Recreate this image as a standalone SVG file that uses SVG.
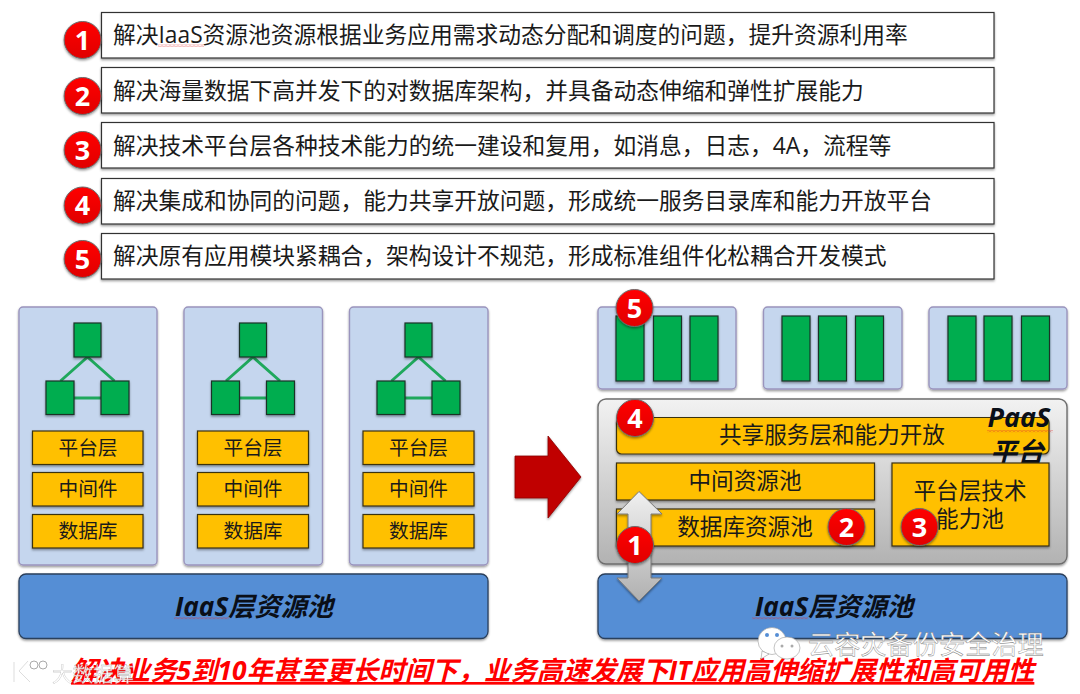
<svg xmlns="http://www.w3.org/2000/svg" xmlns:xlink="http://www.w3.org/1999/xlink" width="1080" height="694" viewBox="0 0 1080 694">
<style>
text{font-family:"Open Sans","Noto Sans CJK SC",sans-serif;fill:#1a1a1a}
.box{fill:#fff;stroke:#333;stroke-width:1.2;filter:url(#sh)}
.t{font-size:22.75px}
.panel{fill:#c5d6ee;stroke:#9a94bd;stroke-width:1.4;filter:url(#sh)}
.g{fill:#00ad50;stroke:#1c3328;stroke-width:1.2;filter:url(#sh)}
.y{fill:#ffc000;stroke:#3a3010;stroke-width:1.2;filter:url(#sh)}
.yt{font-size:19.7px;text-anchor:middle}
.yb{font-size:22.6px;text-anchor:middle}
.link{stroke:#1fa85c;stroke-width:3;fill:none}
.iaas{fill:#558ed5;stroke:#2a3f5c;stroke-width:1.3;filter:url(#sh)}
.it{font-size:26.2px;font-weight:700;font-style:italic;text-anchor:middle;fill:#0a0f18}
.c{fill:url(#red);stroke:#6b6b6b;stroke-width:1;filter:url(#sh)}
.n{font-size:27px;font-weight:700;text-anchor:middle;fill:#fff}
.wm{fill:#fff;stroke:#9a9a9a;stroke-width:.6}
</style>
<defs>
<filter id="sh" x="-15%" y="-15%" width="130%" height="130%"><feDropShadow dx="0" dy="1.5" stdDeviation="1.3" flood-color="#000" flood-opacity=".4"/></filter>
<linearGradient id="red" x1="0" y1="0" x2="0" y2="1"><stop offset="0" stop-color="#f00"/><stop offset="1" stop-color="#e00000"/></linearGradient>
<linearGradient id="grey" x1="0" y1="0" x2="0" y2="1"><stop offset="0" stop-color="#f2f2f2"/><stop offset="1" stop-color="#b2b2b2"/></linearGradient>
<linearGradient id="dbl" x1="0" y1="0" x2="0" y2="1"><stop offset="0" stop-color="#f0f0f0"/><stop offset="1" stop-color="#b0b0b0"/></linearGradient>
<pattern id="sq" width="4" height="2.4" patternUnits="userSpaceOnUse"><path d="M0 .4L2 2L4 .4" fill="none" stroke="#e03030" stroke-width=".7"/></pattern>
<g id="tri">
<path class="link" d="M0 26L-27 50M0 26L27 50M-14 67H14"/>
<rect class="g" x="-13.500" y="-8" width="27" height="34"/>
<rect class="g" x="-41.500" y="50" width="28" height="33.500"/>
<rect class="g" x="13.500" y="50" width="28" height="33.500"/>
</g>
</defs>
<rect width="1080" height="694" fill="#fff"/>

<g id="req1"><rect class="box" x="101.500" y="12.500" width="892.500" height="45.500"/><text class="t" x="113" y="43">解决IaaS资源池资源根据业务应用需求动态分配和调度的问题，提升资源利用率</text><rect x="158" y="44.500" width="46" height="2.400" fill="url(#sq)"/><circle class="c" cx="82.600" cy="40" r="18.500"/><text class="n" x="82.600" y="49.500">1</text></g>
<g id="req2"><rect class="box" x="101.500" y="67.500" width="892.500" height="45.500"/><text class="t" x="113" y="99">解决海量数据下高并发下的对数据库架构，并具备动态伸缩和弹性扩展能力</text><circle class="c" cx="82.600" cy="96" r="18.500"/><text class="n" x="82.600" y="105.500">2</text></g>
<g id="req3"><rect class="box" x="101.500" y="122.500" width="892.500" height="45.500"/><text class="t" x="113" y="154">解决技术平台层各种技术能力的统一建设和复用，如消息，日志，4A，流程等</text><circle class="c" cx="82.600" cy="150" r="18.500"/><text class="n" x="82.600" y="159.500">3</text></g>
<g id="req4"><rect class="box" x="101.500" y="178.500" width="892.500" height="45.500"/><text class="t" x="113" y="209">解决集成和协同的问题，能力共享开放问题，形成统一服务目录库和能力开放平台</text><circle class="c" cx="82.600" cy="205.500" r="18.500"/><text class="n" x="82.600" y="215">4</text></g>
<g id="req5"><rect class="box" x="101.500" y="233.500" width="892.500" height="45.500"/><text class="t" x="113" y="264">解决原有应用模块紧耦合，架构设计不规范，形成标准组件化松耦合开发模式</text><circle class="c" cx="82.600" cy="259" r="18.500"/><text class="n" x="82.600" y="268.500">5</text></g>

<g id="col1"><rect class="panel" x="19" y="307" width="138" height="258" rx="4"/><use xlink:href="#tri" x="87.500" y="331"/>
<rect class="y" x="32.500" y="431" width="110.500" height="33.500"/><text class="yt" x="88" y="455">平台层</text>
<rect class="y" x="32.500" y="472.500" width="110.500" height="33.500"/><text class="yt" x="88" y="496">中间件</text>
<rect class="y" x="32.500" y="514.500" width="110.500" height="33.500"/><text class="yt" x="88" y="538">数据库</text></g>
<g id="col2"><rect class="panel" x="184" y="307" width="138.500" height="258" rx="4"/><use xlink:href="#tri" x="253" y="331"/>
<rect class="y" x="197.500" y="431" width="111" height="33.500"/><text class="yt" x="253" y="455">平台层</text>
<rect class="y" x="197.500" y="472.500" width="111" height="33.500"/><text class="yt" x="253" y="496">中间件</text>
<rect class="y" x="197.500" y="514.500" width="111" height="33.500"/><text class="yt" x="253" y="538">数据库</text></g>
<g id="col3"><rect class="panel" x="349.500" y="307" width="138.500" height="258" rx="4"/><use xlink:href="#tri" x="418.500" y="331"/>
<rect class="y" x="363" y="431" width="111" height="33.500"/><text class="yt" x="418.500" y="455">平台层</text>
<rect class="y" x="363" y="472.500" width="111" height="33.500"/><text class="yt" x="418.500" y="496">中间件</text>
<rect class="y" x="363" y="514.500" width="111" height="33.500"/><text class="yt" x="418.500" y="538">数据库</text></g>
<g id="iaas-left"><rect class="iaas" x="19" y="574" width="469" height="64.500" rx="7"/><text class="it" x="254" y="616">IaaS层资源池</text><rect x="174" y="617" width="55" height="2.400" fill="url(#sq)"/></g>

<g id="arrow-main"><path d="M515 456H548V436L581 477L548 518V498H515Z" fill="#c00000" stroke="#8a0000" stroke-width=".8" filter="url(#sh)"/></g>

<g id="app1"><rect class="panel" x="598" y="307" width="138" height="82" rx="4"/><rect class="g" x="616" y="316" width="28" height="65"/><rect class="g" x="653.500" y="316" width="28" height="65"/><rect class="g" x="690" y="316" width="28" height="65"/></g>
<g id="app2"><rect class="panel" x="763.500" y="307" width="138.500" height="82" rx="4"/><rect class="g" x="782" y="316" width="28" height="65"/><rect class="g" x="818.500" y="316" width="28" height="65"/><rect class="g" x="855.500" y="316" width="28" height="65"/></g>
<g id="app3"><rect class="panel" x="929" y="307" width="138" height="82" rx="4"/><rect class="g" x="948" y="316" width="28" height="65"/><rect class="g" x="984" y="316" width="28" height="65"/><rect class="g" x="1021.500" y="316" width="28" height="65"/></g>

<g id="paas"><rect x="598" y="399" width="469" height="165" rx="8" fill="url(#grey)" stroke="#6e6e6e" stroke-width="1.4" filter="url(#sh)"/>
<rect class="y" x="616.500" y="417.500" width="432.500" height="36.500" rx="5"/><text class="yb" x="832" y="443">共享服务层和能力开放</text>
<text class="it" x="1019" y="427" style="font-size:27px">PaaS</text><text class="it" x="1017" y="462" style="font-size:27px">平台</text><rect x="987" y="430" width="66" height="2.400" fill="url(#sq)"/>
<rect class="y" x="616.500" y="463" width="258" height="37"/><text class="yb" x="745" y="489">中间资源池</text>
<rect class="y" x="616.500" y="509" width="258" height="37"/><text class="yb" x="745" y="535">数据库资源池</text>
<rect class="y" x="892" y="463" width="157" height="83"/><text class="yb" x="970" y="499">平台层技术</text><text class="yb" x="970" y="527">能力池</text></g>

<g id="iaas-right"><rect class="iaas" x="598" y="574" width="469" height="64.500" rx="7"/><text class="it" x="834" y="616">IaaS层资源池</text><rect x="752" y="617" width="56" height="2.400" fill="url(#sq)"/></g>

<g id="arrow-double"><path d="M639 491.500L662 514H651V578H662L639 601L617 578H628V514H617Z" fill="url(#dbl)" stroke="#7a7a7a" stroke-width="1" filter="url(#sh)"/></g>

<g id="b5"><circle class="c" cx="634.500" cy="308" r="18.500"/><text class="n" x="634.500" y="317.500">5</text></g>
<g id="b4"><circle class="c" cx="635" cy="418" r="18.500"/><text class="n" x="635" y="427.500">4</text></g>
<g id="b1"><circle class="c" cx="635" cy="545" r="18.500"/><text class="n" x="635" y="554.500">1</text></g>
<g id="b2"><circle class="c" cx="846.500" cy="527" r="18.500"/><text class="n" x="846.500" y="536.500">2</text></g>
<g id="b3"><circle class="c" cx="919.500" cy="527" r="18.500"/><text class="n" x="919.500" y="536.500">3</text></g>

<g id="slogan"><text x="71" y="680" font-size="26.400" font-weight="700" font-style="italic" style="fill:#f00" text-decoration="underline">解决业务5到10年甚至更长时间下，业务高速发展下IT应用高伸缩扩展性和高可用性</text></g>

<g id="wm-right"><ellipse class="wm" cx="772" cy="641" rx="14" ry="13.500"/><path class="wm" d="M762 651l-1 8 8-5Z"/><ellipse class="wm" cx="787" cy="648" rx="13" ry="11"/>
<circle cx="767" cy="635" r="2" fill="#558ed5"/><circle cx="777" cy="635" r="2" fill="#558ed5"/><circle cx="782" cy="646" r="1.500" fill="#aaa"/><circle cx="792" cy="646" r="1.500" fill="#aaa"/>
<text x="808" y="654" font-size="26.200" style="fill:#fff;stroke:#777;stroke-width:.4">云容灾备份安全治理</text></g>
<g id="wm-left"><path d="M14 662v20M28 661l-9 10 11 11" fill="none" stroke="#fff" stroke-width="3"/><path d="M14 662v20M28 661l-9 10 11 11" fill="none" stroke="#bbb" stroke-width=".5"/><circle cx="34" cy="665" r="4" fill="#fff" stroke="#aaa"/><circle cx="43" cy="665" r="4" fill="#fff" stroke="#aaa"/>
<text x="52" y="682" font-size="20.500" opacity=".85" style="fill:#fff;stroke:#999;stroke-width:.3">大数据算</text></g>
</svg>
